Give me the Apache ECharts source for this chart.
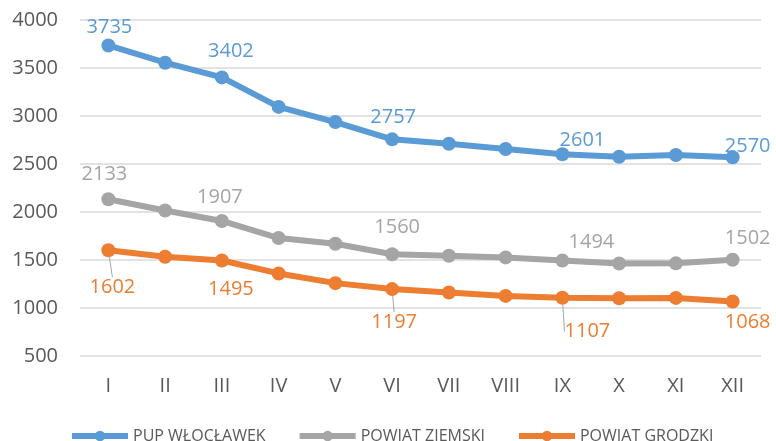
<!DOCTYPE html>
<html>
<head>
<meta charset="utf-8">
<script src="https://cdn.jsdelivr.net/npm/echarts@6/dist/echarts.min.js"></script>
<style>
  html, body { margin: 0; padding: 0; background: #fff; }
  #chart { width: 776px; height: 441px; }
</style>
</head>
<body>
<div id="chart"></div>
<script>
const months = ["I", "II", "III", "IV", "V", "VI", "VII", "VIII", "IX", "X", "XI", "XII"];
const pupWloclawek = [3735, 3555, 3402, 3095, 2937, 2757, 2711, 2656, 2601, 2575, 2593, 2570];
const powiatZiemski = [2133, 2015, 1907, 1729, 1670, 1560, 1544, 1527, 1494, 1464, 1465, 1502];
const powiatGrodzki = [1602, 1534, 1495, 1360, 1259, 1197, 1161, 1126, 1107, 1102, 1105, 1068];
const labelledMonths = [0, 2, 5, 8, 11];

// where each value label sits relative to its point
const blueOffsets = { 0: [1, -18], 2: [9, -26], 5: [1, -22], 8: [20, -14], 11: [15, -11] };
const greyOffsets = { 0: [-4, -25], 2: [-2, -24], 5: [5, -27], 8: [29, -18], 11: [15, -22] };
const orangeOffsets = { 0: [4, 37], 2: [9, 29], 5: [2, 33], 8: [25, 34], 11: [15, 21] };
const orangeLeaders = [0, 5, 8];

const FONT = "'Open Sans', sans-serif";

function withLabels(values, offsets, leaders) {
  return values.map((v, i) => {
    if (!labelledMonths.includes(i)) return v;
    return {
      value: v,
      label: { show: true, position: "inside", offset: leaders ? [0, 0] : offsets[i] },
      labelLine: { show: !!(leaders && leaders.includes(i)) },
    };
  });
}

function makeSeries(name, values, color, offsets, leaders) {
  return {
    name,
    type: "line",
    data: withLabels(values, offsets, leaders),
    symbol: "circle",
    symbolSize: 14,
    lineStyle: { width: 6, color },
    itemStyle: { color },
    label: { show: false, color, fontFamily: FONT, fontSize: 20 },
    labelLine: { show: false, lineStyle: { color: "#A5A5A5", width: 1 } },
    labelLayout: leaders
      ? (p) => (offsets[p.dataIndex] ? { dx: offsets[p.dataIndex][0], dy: offsets[p.dataIndex][1] } : {})
      : undefined,
    emphasis: { disabled: true },
  };
}

const chart = echarts.init(document.getElementById("chart"));
chart.setOption({
  animation: false,
  grid: { left: 80, right: 15, top: 20, bottom: 85 },
  legend: {
    left: 64,
    top: 423,
    itemWidth: 56,
    itemHeight: 13,
    itemGap: 31,
    lineStyle: { width: 6 },
    textStyle: { fontFamily: FONT, fontSize: 16, color: "#595959" },
    data: ["PUP WŁOCŁAWEK", "POWIAT ZIEMSKI", "POWIAT GRODZKI"],
  },
  xAxis: {
    type: "category",
    data: months,
    boundaryGap: true,
    axisLine: { show: false },
    axisTick: { show: false },
    axisLabel: { fontFamily: FONT, fontSize: 20, color: "#595959", margin: 20 },
  },
  yAxis: {
    type: "value",
    min: 500,
    max: 4000,
    interval: 500,
    axisLine: { show: false },
    axisTick: { show: false },
    axisLabel: { fontFamily: FONT, fontSize: 20, color: "#595959", margin: 22, formatter: (v) => String(v) },
    splitLine: { lineStyle: { color: "#D9D9D9", width: 1.5 } },
  },
  series: [
    makeSeries("PUP WŁOCŁAWEK", pupWloclawek, "#5B9BD5", blueOffsets),
    makeSeries("POWIAT ZIEMSKI", powiatZiemski, "#A5A5A5", greyOffsets),
    makeSeries("POWIAT GRODZKI", powiatGrodzki, "#ED7D31", orangeOffsets, orangeLeaders),
  ],
});
</script>
</body>
</html>
